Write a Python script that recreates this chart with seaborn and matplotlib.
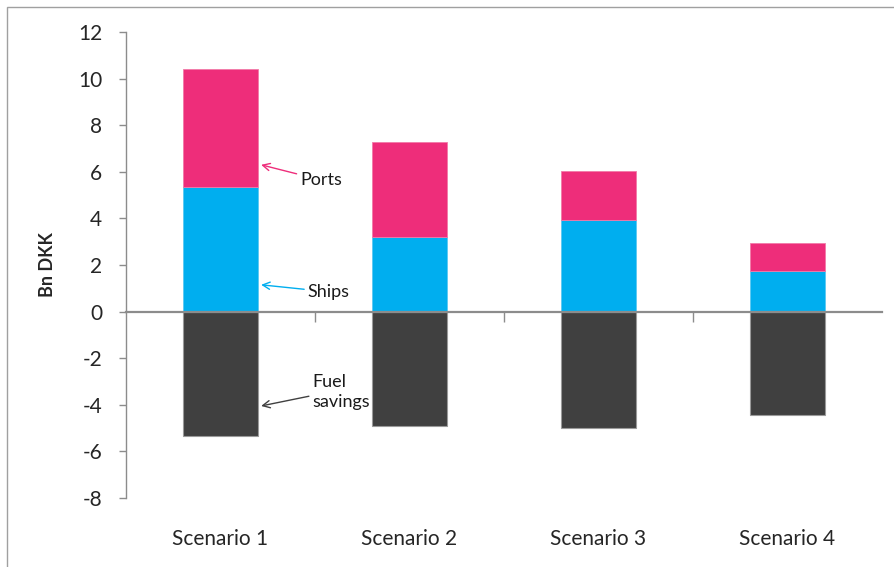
import matplotlib
matplotlib.use("Agg")
import matplotlib.pyplot as plt
import matplotlib.patches as mpatches
import seaborn as sns
import pandas as pd

scenarios = ["Scenario 1", "Scenario 2", "Scenario 3", "Scenario 4"]
ships = [5.35, 3.2, 3.95, 1.75]
ports = [5.05, 4.1, 2.1, 1.2]
fuel_savings = [-5.35, -4.9, -5.0, -4.45]
y_ticks = [-8, -6, -4, -2, 0, 2, 4, 6, 8, 10, 12]

PINK = "#EE2D7A"
BLUE = "#00AEEF"
DARK = "#404040"
GRID = "#8c8c8c"

df = pd.DataFrame({"scenario": scenarios, "ships": ships,
                   "ports": ports, "fuel": fuel_savings})

sns.set_style("white")
plt.rcParams["font.family"] = ["Lato", "DejaVu Sans"]
plt.rcParams["axes.unicode_minus"] = False

fig = plt.figure(figsize=(8.94, 5.67), dpi=100)
ax = fig.add_axes([126 / 894, 1 - 498 / 567, 756 / 894, 466 / 567])

bw = 0.40
sns.barplot(data=df, x="scenario", y="ships", color=BLUE, width=bw,
            saturation=1, ax=ax, edgecolor="#5cc8f2", linewidth=0.6)
sns.barplot(data=df, x="scenario", y="ports", bottom=df["ships"], color=PINK,
            width=bw, saturation=1, ax=ax, edgecolor="#f27aa8", linewidth=0.6)
sns.barplot(data=df, x="scenario", y="fuel", color=DARK, width=bw,
            saturation=1, ax=ax, edgecolor="#9a9a9a", linewidth=0.8)

ax.set_xlim(-0.5, 3.5)
ax.set_ylim(-8, 12)
ax.set_yticks(y_ticks)
ax.tick_params(axis="y", left=True, direction="out", length=5, width=1,
               color=GRID, pad=12, labelsize=15, labelcolor="#262626")
ax.set_ylabel("Bn DKK", fontsize=13, fontweight="bold", labelpad=16,
              color="#262626")
ax.set_xlabel("")

# zero line with category separators
ax.spines["bottom"].set_position(("data", 0))
ax.spines["bottom"].set_color(GRID)
ax.spines["bottom"].set_linewidth(1.6)
ax.spines["bottom"].set_zorder(5)
ax.spines["left"].set_color(GRID)
ax.spines["left"].set_linewidth(1)
ax.spines["top"].set_visible(False)
ax.spines["right"].set_visible(False)
ax.set_xticks([0.5, 1.5, 2.5], minor=True)
ax.set_xticks([])
ax.tick_params(axis="x", which="minor", direction="out", length=7, width=1,
               color=GRID, bottom=True)

sec = ax.secondary_xaxis(0)
sec.set_xticks(range(len(scenarios)), labels=scenarios)
sec.tick_params(length=0, pad=22, labelsize=15, labelcolor="#262626")
sec.spines["bottom"].set_visible(False)

# callouts
ax.annotate("Ports", xy=(0.215, 6.3), xytext=(0.42, 5.65), fontsize=13,
            ha="left", va="center", color="#1a1a1a",
            arrowprops=dict(arrowstyle="->", color=PINK, lw=1,
                            shrinkA=0, shrinkB=0),
            annotation_clip=False)
ax.annotate("Ships", xy=(0.215, 1.15), xytext=(0.46, 0.85), fontsize=13,
            ha="left", va="center", color="#1a1a1a",
            arrowprops=dict(arrowstyle="->", color=BLUE, lw=1,
                            shrinkA=0, shrinkB=0))
ax.annotate("Fuel\nsavings", xy=(0.215, -4.05), xytext=(0.485, -3.45),
            fontsize=13, ha="left", va="center", color="#1a1a1a",
            linespacing=1.3,
            arrowprops=dict(arrowstyle="->", color=DARK, lw=1,
                            shrinkA=0, shrinkB=0,
                            relpos=(0.0, 0.4)))

# outer chart frame
fig.patches.append(mpatches.Rectangle((7 / 894, -0.02), 1.05, 1 - 7 / 567 + 0.02,
                                      transform=fig.transFigure, fill=False,
                                      edgecolor="#a0a0a0", linewidth=1))

fig.savefig("out.png", dpi=100)
